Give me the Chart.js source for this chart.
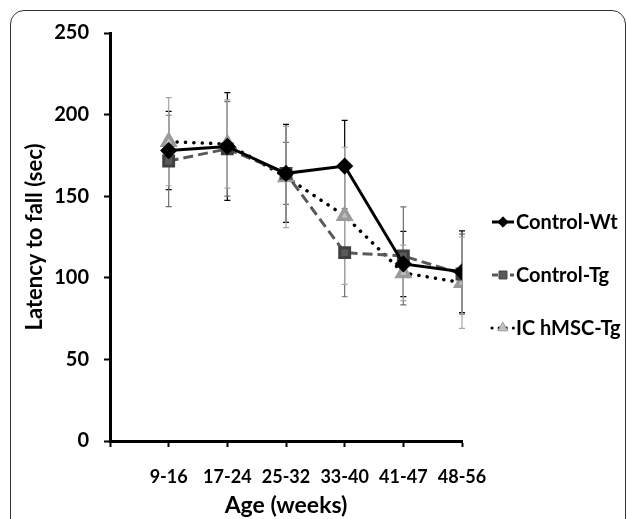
<!DOCTYPE html>
<html>
<head>
<meta charset="utf-8">
<script src="https://cdn.jsdelivr.net/npm/chart.js@4.4.1/dist/chart.umd.min.js"></script>
<style>
  html, body { margin: 0; padding: 0; background: #fff; overflow: hidden; }
  #wrap { position: relative; width: 627px; height: 519px; }
  #frame {
    position: absolute; left: 10px; top: 10px; width: 614px; height: 560px;
    border: 1.5px solid #333; border-radius: 14px; pointer-events: none;
  }
  canvas { position: absolute; left: 0; top: 0; }
</style>
</head>
<body>
<div id="wrap">
  <div id="frame"></div>
  <canvas id="myChart" width="627" height="519"></canvas>
</div>
<script>
const ageGroups = ["9-16", "17-24", "25-32", "33-40", "41-47", "48-56"];
const yTicks = [0, 50, 100, 150, 200, 250];

const controlWt = [178, 180.5, 164, 168.5, 108.5, 103.7];
const controlTg = [171.6, 179, 164, 115.4, 113.4, 102.3];
const icHmscTg = [183.4, 182, 161.8, 138, 103, 97];

// +/- error values
const controlWtErr = [24, 33, 30, 28, 20, 25];
const controlTgErr = [28, 29, 19, 27, 30, 24.5];
const icHmscTgErr = [27, 27, 31, 42, 17, 28];

const FONT = "Lato";

function toPoints(values) {
  return values.map(function (v, i) { return { x: i + 1, y: v }; });
}

// error bars, drawn under the markers
const errorBars = {
  id: "errorBars",
  beforeDatasetsDraw(chart) {
    const ctx = chart.ctx;
    const xs = chart.scales.x, ys = chart.scales.y;
    chart.data.datasets.forEach(function (ds) {
      ctx.save();
      ctx.strokeStyle = ds.errColor;
      ctx.lineWidth = 1.2;
      ds.data.forEach(function (p, i) {
        const e = ds.errors[i];
        const x = xs.getPixelForValue(p.x);
        const top = ys.getPixelForValue(p.y + e);
        const bot = ys.getPixelForValue(p.y - e);
        ctx.beginPath();
        ctx.moveTo(x, top); ctx.lineTo(x, bot);
        ctx.moveTo(x - 3, top); ctx.lineTo(x + 3, top);
        ctx.moveTo(x - 3, bot); ctx.lineTo(x + 3, bot);
        ctx.stroke();
      });
      ctx.restore();
    });
  }
};

// legend with line sample + marker, like the original
const sideLegend = {
  id: "sideLegend",
  afterDraw(chart) {
    const ctx = chart.ctx;
    const rows = [222, 275, 328];
    chart.data.datasets.forEach(function (ds, i) {
      const y = rows[i];
      ctx.save();
      ctx.strokeStyle = ds.borderColor;
      ctx.lineWidth = 3;
      ctx.lineCap = ds.borderCapStyle || "butt";
      ctx.setLineDash(ds.legendDash || []);
      ctx.beginPath();
      ctx.moveTo(492, y); ctx.lineTo(514, y);
      ctx.stroke();
      ctx.setLineDash([]);
      ctx.fillStyle = ds.pointBackgroundColor;
      ctx.strokeStyle = ds.pointBorderColor;
      ctx.lineWidth = 1;
      Chart.helpers.drawPoint(ctx, { pointStyle: ds.pointStyle, radius: ds.pointRadius * 0.8, rotation: 0, borderWidth: 1 }, 503, y);
      ctx.fillStyle = "#000";
      ctx.font = "bold 20px " + FONT;
      ctx.textBaseline = "middle";
      ctx.textAlign = "left";
      ctx.fillText(ds.label, 516, y + 1);
      ctx.restore();
    });
  }
};

const ctx = document.getElementById("myChart").getContext("2d");
const chart = new Chart(ctx, {
  type: "line",
  data: {
    datasets: [
      {
        label: "Control-Wt",
        data: toPoints(controlWt),
        errors: controlWtErr,
        errColor: "#000",
        borderColor: "#000",
        borderWidth: 3,
        pointStyle: "rectRot",
        pointRadius: 6.5,
        pointBackgroundColor: "#000",
        pointBorderColor: "#000",
      },
      {
        label: "Control-Tg",
        data: toPoints(controlTg),
        errors: controlTgErr,
        errColor: "#6f6f6f",
        borderColor: "#595959",
        borderWidth: 3,
        borderDash: [10, 5],
        legendDash: [6, 3],
        pointStyle: "rect",
        pointRadius: 7,
        pointBackgroundColor: "#595959",
        pointBorderColor: "#404040",
      },
      {
        label: "IC hMSC-Tg",
        data: toPoints(icHmscTg),
        errors: icHmscTgErr,
        errColor: "#a6a6a6",
        borderColor: "#000",
        borderWidth: 3.5,
        borderDash: [0.1, 8.3],
        legendDash: [0.1, 7],
        borderCapStyle: "round",
        pointStyle: "triangle",
        pointRadius: 7,
        pointBackgroundColor: "#bfbfbf",
        pointBorderColor: "#9a9a9a",
      },
    ],
  },
  options: {
    responsive: false,
    animation: false,
    layout: { padding: { left: 10, top: 33, right: 165, bottom: 0 } },
    plugins: {
      legend: { display: false },
      tooltip: { enabled: false },
    },
    elements: { line: { tension: 0, fill: false }, point: { borderWidth: 1 } },
    scales: {
      x: {
        type: "linear",
        min: 0,
        max: ageGroups.length,
        afterFit: function (scale) { scale.height = 78; },
        afterBuildTicks: function (scale) {
          scale.ticks = [{ value: 0 }].concat(ageGroups.map(function (_, i) { return { value: i + 1 }; }));
        },
        ticks: {
          padding: 19,
          color: "#000",
          maxRotation: 0,
          font: { family: FONT, size: 18, weight: "bold" },
          callback: function (v) { return v >= 1 ? ageGroups[v - 1] : ""; },
        },
        grid: { drawOnChartArea: false, drawTicks: true, tickLength: 6, tickColor: "#000", tickWidth: 2 },
        border: { display: true, color: "#000", width: 3 },
        title: {
          display: true,
          text: "Age (weeks)",
          color: "#000",
          padding: { top: 0, bottom: 0 },
          font: { family: FONT, size: 23, weight: "bold" },
        },
      },
      y: {
        min: 0,
        max: 250,
        afterFit: function (scale) { scale.width = 100; },
        afterBuildTicks: function (scale) {
          scale.ticks = yTicks.map(function (v) { return { value: v }; });
        },
        ticks: {
          padding: 15,
          color: "#000",
          font: { family: FONT, size: 20, weight: "bold" },
        },
        grid: { drawOnChartArea: false, drawTicks: true, tickLength: 6, tickColor: "#000", tickWidth: 2 },
        border: { display: true, color: "#000", width: 3 },
        title: {
          display: true,
          text: "Latency to fall (sec)",
          color: "#000",
          padding: { top: 12, bottom: 0 },
          font: { family: FONT, size: 22, weight: "bold" },
        },
      },
    },
  },
  plugins: [errorBars, sideLegend],
});
</script>
</body>
</html>
